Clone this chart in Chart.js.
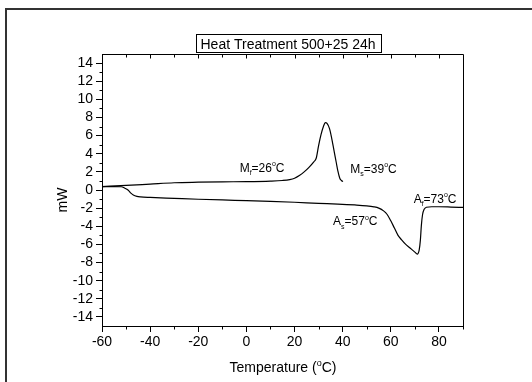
<!DOCTYPE html>
<html>
<head>
<meta charset="utf-8">
<script src="https://cdn.jsdelivr.net/npm/chart.js@4.4.1/dist/chart.umd.min.js"></script>
<style>
  html, body { margin: 0; padding: 0; background: #fff; }
</style>
</head>
<body>
<canvas id="dscChart" width="532" height="382"></canvas>
<script>
// cooling run (upper curve)
const coolT = [-60, -50, -40, -30, -20, -10, 0, 10, 15, 18, 20, 22, 24, 26, 28, 29, 30, 31, 32, 32.8, 33.5, 34.5, 35.3, 36.5, 37.4, 38, 38.8, 39.5, 40.1]
const coolW = [0.38, 0.5, 0.65, 0.8, 0.86, 0.9, 0.92, 0.98, 1.05, 1.15, 1.3, 1.6, 2.0, 2.5, 3.1, 3.5, 4.9, 6.1, 7.0, 7.44, 7.35, 6.8, 5.9, 4.2, 2.95, 2.1, 1.3, 1.05, 0.92]

// heating run (lower curve)
const heatT = [-60, -55, -52, -50.5, -49.2, -48, -47, -45.5, -44, -40, -30, -20, -10, 0, 10, 20, 30, 38, 45, 50, 53, 55, 57, 58.5, 60, 61.5, 63, 64.5, 66, 68, 70, 71, 71.8, 72.3, 72.7, 73.2, 73.8, 74.8, 77, 80, 85, 90]
const heatW = [0.38, 0.38, 0.36, 0.2, 0.0, -0.35, -0.55, -0.7, -0.76, -0.82, -0.92, -1.02, -1.1, -1.17, -1.25, -1.35, -1.47, -1.55, -1.65, -1.75, -1.86, -2.0, -2.3, -2.7, -3.4, -4.2, -5.0, -5.5, -5.95, -6.4, -6.85, -7.07, -6.6, -5.5, -3.9, -2.7, -2.15, -1.9, -1.85, -1.85, -1.88, -1.92]

const xTicks = [-60, -40, -20, 0, 20, 40, 60, 80]
const xMinor = [-50, -30, -10, 10, 30, 50, 70, 90]
const yTicks = [-14, -12, -10, -8, -6, -4, -2, 0, 2, 4, 6, 8, 10, 12, 14]
const yMinor = [-13, -11, -9, -7, -5, -3, -1, 1, 3, 5, 7, 9, 11, 13]

const chartTitle = 'Heat Treatment 500+25 24h'

// transition temperature labels: letter, subscript, value
const labelText = [['M', 'f', '=26'], ['M', 's', '=39'], ['A', 's', '=57'], ['A', 'f', '=73']]
const labelAt = [[-2.8, 2.0], [43.2, 1.9], [36, -3.9], [69.5, -1.4]]

const FONT = '"Liberation Sans", Arial, sans-serif'

function toPoints(xs, ys) {
  return xs.map((x, i) => ({x: x, y: ys[i]}))
}

// draws text pieces with sub / superscripts, returns width
function richText(ctx, x, y, parts, size, measureOnly) {
  let cx = x
  parts.forEach(p => {
    const small = p.sub || p.sup
    ctx.font = (small ? Math.round(size * 0.62) : size) + 'px ' + FONT
    let dy = 0
    if (p.sub) dy = size * 0.3
    if (p.sup) dy = -size * 0.45
    if (!measureOnly) ctx.fillText(p.t, cx, y + dy)
    cx += ctx.measureText(p.t).width
  })
  return cx - x
}

const decor = {
  id: 'decor',
  afterDraw(chart) {
    const ctx = chart.ctx
    const a = chart.chartArea
    const x = chart.scales.x
    const y = chart.scales.y
    const L = Math.round(a.left) + 0.5
    const R = Math.round(a.right) + 0.5
    const T = Math.round(a.top) + 0.5
    const B = Math.round(a.bottom) + 0.5
    ctx.save()
    ctx.strokeStyle = '#000'
    ctx.lineWidth = 1
    ctx.beginPath()
    // top and right axis lines
    ctx.moveTo(L, T); ctx.lineTo(R, T); ctx.lineTo(R, B)
    // minor ticks
    yMinor.forEach(v => {
      const py = Math.round(y.getPixelForValue(v)) + 0.5
      ctx.moveTo(L - 3, py); ctx.lineTo(L, py)
    })
    xMinor.forEach(v => {
      const px = Math.round(x.getPixelForValue(v)) + 0.5
      ctx.moveTo(px, B); ctx.lineTo(px, B + 3)
    })
    // inner ticks on top axis
    xTicks.concat(xMinor).forEach(v => {
      if (v <= -60 || v >= 90) return
      const px = Math.round(x.getPixelForValue(v)) + 0.5
      ctx.moveTo(px, T); ctx.lineTo(px, T + (xTicks.includes(v) ? 4 : 3))
    })
    ctx.stroke()

    // outer frame
    ctx.strokeStyle = '#333'
    ctx.lineWidth = 2
    ctx.strokeRect(6, 9, 600, 500)

    // title box
    ctx.fillStyle = '#000'
    ctx.font = '14px ' + FONT
    ctx.textBaseline = 'alphabetic'
    ctx.textAlign = 'left'
    const tw = ctx.measureText(chartTitle).width
    const cxT = 288
    ctx.fillText(chartTitle, cxT - tw / 2, 49)
    ctx.lineWidth = 1
    ctx.strokeStyle = '#000'
    ctx.strokeRect(Math.round(cxT - tw / 2 - 5) + 0.5, 34.5, Math.round(tw + 10), 18)

    // x axis title
    const xt = [{t: 'Temperature ('}, {t: 'o', sup: true}, {t: 'C)'}]
    const w = richText(ctx, 0, 0, xt, 14, true)
    richText(ctx, 283 - w / 2, 372, xt, 14)

    // y axis title
    ctx.save()
    ctx.translate(63, 200)
    ctx.rotate(-Math.PI / 2)
    ctx.font = '14px ' + FONT
    ctx.textAlign = 'center'
    ctx.textBaseline = 'middle'
    ctx.fillText('mW', 0, 0)
    ctx.restore()

    // transition labels
    labelText.forEach((lt, i) => {
      const px = x.getPixelForValue(labelAt[i][0])
      const py = y.getPixelForValue(labelAt[i][1])
      richText(ctx, px, py, [{t: lt[0]}, {t: lt[1], sub: true}, {t: lt[2]}, {t: 'o', sup: true}, {t: 'C'}], 12)
    })
    ctx.restore()
  }
}

const lineStyle = {
  showLine: true,
  borderColor: '#000',
  borderWidth: 1.2,
  pointRadius: 0,
  fill: false,
  cubicInterpolationMode: 'monotone',
}

const data = {
  datasets: [
    Object.assign({label: 'cooling', data: toPoints(coolT, coolW)}, lineStyle),
    Object.assign({label: 'heating', data: toPoints(heatT, heatW)}, lineStyle),
  ],
}

const tickFont = {family: FONT, size: 14}

const options = {
  responsive: false,
  animation: false,
  layout: {padding: {left: 42, right: 69, top: 54, bottom: 26}},
  plugins: {legend: {display: false}, tooltip: {enabled: false}},
  scales: {
    x: {
      type: 'linear',
      min: -60,
      max: 90,
      afterBuildTicks: s => { s.ticks = xTicks.map(v => ({value: v})) },
      afterFit: s => { s.height = 30 },
      ticks: {color: '#000', font: tickFont, padding: 2, maxRotation: 0, autoSkip: false},
      grid: {drawOnChartArea: false, color: '#000', tickLength: 6},
      border: {color: '#000', width: 1},
    },
    y: {
      type: 'linear',
      min: -15,
      max: 15,
      afterBuildTicks: s => { s.ticks = yTicks.map(v => ({value: v})) },
      afterFit: s => { s.width = 60 },
      ticks: {color: '#000', font: tickFont, padding: 3, autoSkip: false},
      grid: {drawOnChartArea: false, color: '#000', tickLength: 6},
      border: {color: '#000', width: 1},
    },
  },
}

new Chart(document.getElementById('dscChart'), {
  type: 'scatter',
  data: data,
  options: options,
  plugins: [decor],
})
</script>
</body>
</html>
